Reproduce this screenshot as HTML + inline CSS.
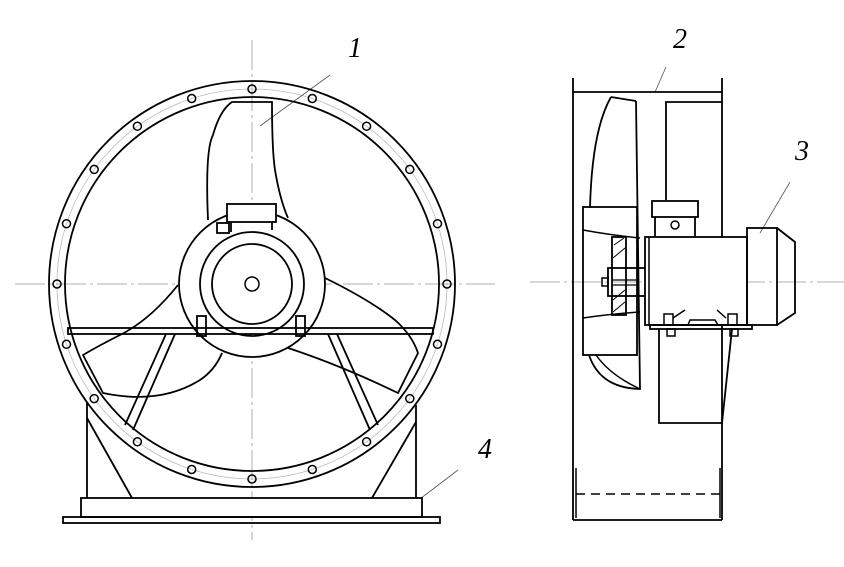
<!DOCTYPE html>
<html><head><meta charset="utf-8"><style>
html,body{margin:0;padding:0;background:#fff;}
svg{display:block;}
text{font-family:"Liberation Serif",serif;font-style:italic;font-size:28px;fill:#000;}
</style></head><body>
<svg width="844" height="567" viewBox="0 0 844 567" xmlns="http://www.w3.org/2000/svg">
<g fill="none" stroke="#999" stroke-width="0.8">
<line x1="252" y1="40" x2="252" y2="540" stroke-dasharray="30 4 3 4"/>
<line x1="15" y1="284" x2="495" y2="284" stroke-dasharray="30 4 3 4"/>
<line x1="530" y1="282" x2="844" y2="282" stroke-dasharray="30 4 3 4"/>
<circle cx="252" cy="284" r="195" stroke="#bbb"/>
<line x1="330" y1="75" x2="260" y2="126" stroke="#555"/>
<line x1="458" y1="470" x2="412" y2="505" stroke="#555"/>
<line x1="666" y1="67" x2="655" y2="92" stroke="#555"/>
<line x1="790" y1="182" x2="760" y2="233" stroke="#555"/>
</g>
<g fill="none" stroke="#000" stroke-width="1.8">
<circle cx="252" cy="284" r="203"/>
<circle cx="252" cy="284" r="187"/>
<g stroke-width="1.5">
<circle cx="252" cy="89" r="4"/><circle cx="312.3" cy="98.5" r="4"/><circle cx="366.6" cy="126.2" r="4"/><circle cx="409.8" cy="169.4" r="4"/><circle cx="437.5" cy="223.7" r="4"/><circle cx="447" cy="284" r="4"/><circle cx="437.5" cy="344.3" r="4"/><circle cx="409.8" cy="398.6" r="4"/><circle cx="366.6" cy="441.8" r="4"/><circle cx="312.3" cy="469.5" r="4"/><circle cx="252" cy="479" r="4"/><circle cx="191.7" cy="469.5" r="4"/><circle cx="137.4" cy="441.8" r="4"/><circle cx="94.2" cy="398.6" r="4"/><circle cx="66.5" cy="344.3" r="4"/><circle cx="57" cy="284" r="4"/><circle cx="66.5" cy="223.7" r="4"/><circle cx="94.2" cy="169.4" r="4"/><circle cx="137.4" cy="126.2" r="4"/><circle cx="191.7" cy="98.5" r="4"/>
</g>
<path d="M208,220 Q205,150 213,135 Q220,110 232,102 L272,102 Q272,150 275,170 Q280,200 288,218"/>
<path d="M178,285 Q150,320 120,335 Q100,345 83,355 L103,393 Q160,405 200,380 Q215,370 222,353"/>
<path d="M325,278 Q370,300 395,320 Q412,335 418,353 L398,393 Q340,365 288,348"/>
<line x1="87" y1="403" x2="87" y2="498"/>
<line x1="416" y1="405" x2="416" y2="498"/>
<line x1="87" y1="418" x2="132" y2="498"/>
<line x1="416" y1="422" x2="372" y2="498"/>
<rect x="81" y="498" width="341" height="19" fill="#fff"/>
<rect x="63" y="517" width="377" height="6"/>
<line x1="175" y1="334" x2="133" y2="430"/>
<line x1="166" y1="334" x2="125" y2="425"/>
<line x1="328" y1="334" x2="370" y2="430"/>
<line x1="337" y1="334" x2="378" y2="425"/>
<circle cx="252" cy="284" r="73" fill="#fff"/>
<circle cx="252" cy="284" r="52"/>
<circle cx="252" cy="284" r="40"/>
<circle cx="252" cy="284" r="7" stroke-width="1.5"/>
<rect x="227" y="204" width="49" height="18" fill="#fff"/>
<rect x="217" y="223" width="12" height="10" fill="#fff"/>
<line x1="231" y1="222" x2="231" y2="232"/><line x1="272" y1="222" x2="272" y2="230"/>
<rect x="68" y="328" width="365" height="6"/>
<rect x="197" y="316" width="9" height="20"/>
<rect x="296" y="316" width="9" height="20"/>
<line x1="573" y1="78" x2="573" y2="520"/>
<line x1="722" y1="78" x2="722" y2="520"/>
<line x1="573" y1="92" x2="722" y2="92"/>
<line x1="573" y1="520" x2="722" y2="520"/>
<line x1="576" y1="468" x2="576" y2="518" stroke-width="1.5"/>
<line x1="720" y1="468" x2="720" y2="518" stroke-width="1.5"/>
<line x1="576" y1="494" x2="720" y2="494" stroke-dasharray="9 6" stroke-width="1.5"/>
<polyline points="666,200 666,102 722,102"/>
<path d="M611,97 Q592,130 590,208 M636,101 L640,389 Q600,388 589,355"/>
<path d="M611,97 L636,101"/>
<rect x="583" y="207" width="54" height="148"/>
<path d="M583,230 Q610,235 640,238 M583,318 Q610,314 640,312" stroke-width="1.5"/>
<path d="M596,355 Q610,375 640,389" stroke-width="1.5"/>
<rect x="612" y="237" width="14" height="78"/>
<path d="M614,245 L624,238 M613,258 L625,248 M613,300 L625,290 M613,312 L625,302" stroke-width="1"/>
<rect x="608" y="268" width="30" height="28"/>
<rect x="602" y="278" width="6" height="8" stroke-width="1.5"/>
<line x1="612" y1="280" x2="636" y2="280" stroke-width="1.2"/>
<line x1="612" y1="285" x2="636" y2="285" stroke-width="1.2"/>
<rect x="638" y="268" width="8" height="28"/>
<rect x="645" y="237" width="102" height="88" fill="#fff"/>
<line x1="649" y1="237" x2="649" y2="325" stroke-width="1.5"/>
<rect x="747" y="228" width="30" height="97"/>
<polyline points="777,228 795,242 795,313 777,325"/>
<rect x="652" y="201" width="46" height="16"/>
<line x1="655" y1="217" x2="655" y2="236"/>
<line x1="695" y1="217" x2="695" y2="236"/>
<circle cx="675" cy="225" r="4" stroke-width="1.5"/>
<rect x="650" y="325" width="102" height="4"/>
<path d="M659,329 L659,423 L722,423 L732,329"/>
<path d="M688,325 L690,320 L715,320 L718,325" stroke-width="1.5"/>
<rect x="664" y="314" width="9" height="11" stroke-width="1.5"/>
<rect x="728" y="314" width="9" height="11" stroke-width="1.5"/>
<rect x="667" y="329" width="8" height="7" stroke-width="1.5"/>
<rect x="730" y="329" width="8" height="7" stroke-width="1.5"/>
<path d="M673,318 L685,310 M726,318 L717,310" stroke-width="1.5"/>
</g>
<text x="348" y="57">1</text>
<text x="673" y="48">2</text>
<text x="795" y="160">3</text>
<text x="478" y="458">4</text>
</svg>
</body></html>
